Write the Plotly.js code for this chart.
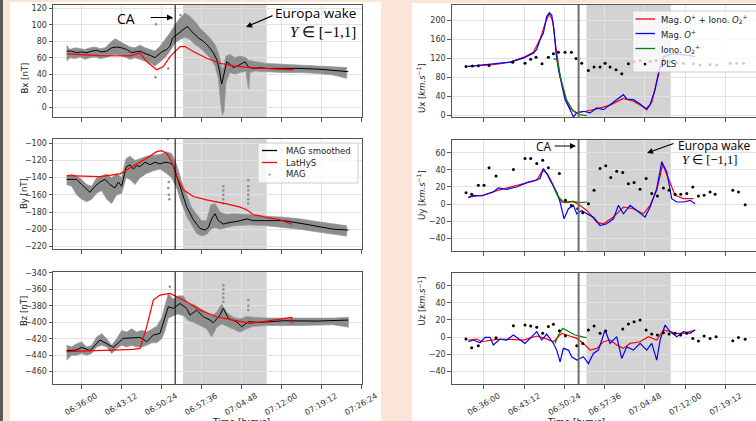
<!DOCTYPE html>
<html><head><meta charset="utf-8">
<script src="https://cdn.plot.ly/plotly-3.0.1.min.js"></script>
<style>html,body{margin:0;padding:0;overflow:hidden;background:#fbe5d6;width:756px;height:421px}#chart{width:800px;height:421px}</style>
</head><body><div id="chart"></div><script>
// ---------- times are minutes after 06:00:00 ----------
const xTickMinutes = [36, 43.2, 50.4, 57.6, 64.8, 72, 79.2, 86.4];
const xTickLabels = ['06:36:00','06:43:12','06:50:24','06:57:36','07:04:48','07:12:00','07:19:12','07:26:24'];
const caTime = 52.95;
const wakeStart = 54.35, wakeEnd = 69.42;

// ---------- Bx ----------
const bxTicks = [0,20,40,60,80,100,120];
const bxTickLabels = ['0','20','40','60','80','100','120'];
const bxSmoothTime = [33.42,34.32,35.22,36.12,37.02,37.92,38.82,39.72,40.62,41.52,42.42,43.32,44.22,45.12,45.72,46.62,47.22,48.12,48.72,49.32,49.92,50.52,51.42,52.02,52.50,53.22,54.12,54.72,55.14,55.62,56.22,57.12,58.02,58.92,59.82,60.42,60.90,61.32,61.74,62.22,62.82,63.42,64.14,64.74,65.52,66.12,67.02,68.22,69.42,72.42,75.42,79.02,81.42,84.12];
const bxSmooth = [68,68,66,67,66,68,69,67,68,72,73,72,70,66,67,68,66,64,62,60,64,67,70,74,84,88,92,96,98,94,90,84,80,74,66,58,45,28,40,55,52,48,50,52,55,49,47,48,47,47,47,46,45,43];
const bxBandTime = [33.42,34.02,34.92,35.82,36.72,37.62,38.52,39.42,40.32,41.22,42.12,43.02,43.92,44.82,45.72,46.62,47.52,48.42,49.32,50.22,51.12,52.02,52.92,53.82,54.72,55.62,56.52,57.42,58.32,59.22,60.12,60.72,61.14,61.44,61.74,62.10,62.82,63.72,64.62,65.70,66.00,66.18,66.42,67.32,69.42,72.42,75.42,78.42,81.42,83.82];
const bxBandLow  = [56,60,59,61,58,60,61,59,60,62,64,63,61,58,60,58,56,54,50,55,60,68,78,82,85,82,76,72,66,60,50,35,5,-10,-5,30,42,40,42,44,28,22,42,44,43,42,42,41,39,35];
const bxBandHigh = [75,70,72,71,70,72,73,71,72,78,83,79,76,73,72,75,72,70,68,74,82,90,100,108,114,110,104,96,90,84,76,66,55,45,50,62,64,60,62,60,58,56,57,55,53,52,51,50,49,48];
const bxOutTime = [49.5,49.4,51.7,53.9,52.3];
const bxOut = [100.6,36.4,47,112,108];
const bxModelTime = [33.42,39.42,44.82,46.62,47.82,49.62,50.82,52.02,53.82,54.72,56.22,58.62,61.02,63.42,66.42,69.42,74.22];
const bxModel = [64.6,62.6,62.2,65.5,55.4,45.3,49.3,61.4,73.5,73.5,67.5,59.4,53.3,50.1,48,47.3,45.3];

// ---------- By ----------
const byTicks = [-220,-200,-180,-160,-140,-120,-100];
const byTickLabels = ['\u2212220','\u2212200','\u2212180','\u2212160','\u2212140','\u2212120','\u2212100'];
const bySmoothTime = [33.42,35.22,36.12,37.02,37.62,38.52,39.42,40.32,41.22,42.12,42.72,43.32,44.10,44.82,45.42,46.02,46.62,47.52,48.42,49.32,50.22,51.12,52.02,52.62,53.22,54.12,55.02,56.22,57.42,58.32,58.92,59.52,60.12,60.72,61.62,62.82,64.02,65.82,67.02,69.42,72.42,75.42,79.02,81.42,84.12];
const bySmooth = [-142,-142,-148,-153,-157,-150,-145,-142,-148,-152,-145,-150,-128,-125,-130,-126,-127,-122,-125,-122,-124,-122,-123,-126,-138,-156,-174,-189,-199,-201,-198,-188,-182,-190,-194,-192,-191,-188,-190,-190,-190,-193,-197,-200,-201];
const byBandTime = [33.42,34.32,35.22,36.12,37.02,37.92,38.82,39.72,40.62,41.52,42.42,43.32,44.10,44.82,45.72,46.62,47.82,49.02,50.22,51.42,52.32,53.22,54.12,55.02,55.92,56.82,57.72,58.62,59.34,60.12,61.02,62.22,63.42,66.42,69.42,72.42,75.42,78.42,81.42,83.82];
const byBandLow  = [-148,-150,-160,-165,-168,-165,-158,-155,-165,-170,-160,-158,-140,-142,-148,-140,-135,-132,-130,-135,-140,-152,-170,-185,-195,-205,-208,-206,-200,-198,-200,-198,-196,-195,-196,-198,-200,-203,-206,-208];
const byBandHigh = [-138,-136,-138,-142,-148,-150,-140,-138,-136,-140,-135,-140,-118,-115,-120,-118,-115,-114,-113,-110,-112,-125,-145,-160,-175,-182,-190,-190,-172,-170,-180,-183,-182,-183,-185,-186,-188,-191,-194,-196];
const byOutTime = [51.6,51.7,51.8,51.7,51.8,51.9,51.6,61.6,61.6,61.6,61.6,61.6,66.1,66.1,66.1,66.1,66.1,66.1];
const byOut = [-128,-135,-145,-152,-160,-165,-95,-150,-155,-160,-165,-170,-143,-150,-155,-160,-165,-170];
const byModelTime = [33.42,39.42,43.02,45.42,47.82,49.62,50.52,51.42,52.32,53.22,54.42,56.22,58.62,62.22,64.62,65.82,67.02,68.22,69.42,71.82,73.92];
const byModel = [-137.6,-138.7,-135.6,-127,-117.4,-109.7,-108.5,-111.6,-121.3,-138.7,-154.2,-161.9,-165.8,-170.5,-174.3,-177.4,-183.2,-184.4,-186.3,-189,-194];

// ---------- Bz ----------
const bzTicks = [-460,-440,-420,-400,-380,-360,-340];
const bzTickLabels = ['\u2212460','\u2212440','\u2212420','\u2212400','\u2212380','\u2212360','\u2212340'];
const bzSmoothTime = [33.42,35.22,36.12,37.62,39.42,40.62,41.82,43.62,45.42,46.62,47.82,49.02,50.22,51.12,51.72,52.62,53.82,55.02,55.62,56.82,58.02,59.22,59.82,61.02,61.62,62.52,64.02,64.92,66.12,68.22,72.42,78.42,84.12];
const bzSmooth = [-434.5,-433.7,-430.5,-434.5,-421.6,-425.7,-430.5,-419.6,-418.4,-418.4,-423.6,-415.6,-413.5,-395.4,-381.2,-383.2,-377.2,-383.2,-391.3,-385.3,-393.3,-397.4,-400.6,-391.3,-383.2,-395.4,-399.4,-405.5,-399.4,-400.2,-398.2,-398.6,-397.4];
const bzBandTime = [33.42,34.32,35.22,36.12,37.02,37.92,38.82,39.72,40.62,41.52,42.42,43.32,44.22,45.12,46.02,46.92,47.82,48.72,49.62,50.52,51.12,51.72,52.62,53.52,54.42,55.32,56.22,57.42,58.62,59.52,60.42,61.32,62.22,63.42,64.62,65.82,67.02,69.42,75.42,81.42,84.12];
const bzBandLow  = [-446,-440,-440,-438,-440,-438,-430,-428,-430,-438,-432,-428,-430,-428,-430,-430,-428,-425,-425,-420,-410,-395,-392,-390,-392,-398,-400,-404,-408,-418,-406,-402,-405,-408,-412,-408,-405,-404,-404,-403,-406];
const bzBandHigh = [-428,-430,-426,-424,-430,-428,-418,-414,-420,-428,-420,-410,-412,-408,-412,-410,-412,-408,-405,-395,-380,-365,-372,-368,-368,-378,-378,-383,-388,-392,-388,-378,-388,-394,-396,-393,-394,-395,-395,-395,-394];
const bzOutTime = [61.62,61.62,61.62,61.62,61.62,66.12,66.12,66.12,52.0];
const bzOut = [-355,-360,-365,-370,-375,-373,-380,-385,-357];
const bzModelTime = [33.42,39.42,45.42,46.62,47.82,49.02,50.22,52.02,53.22,55.02,57.42,60.42,63.42,66.42,69.42,73.92,74.04];
const bzModel = [-435.8,-434.5,-432.9,-431.7,-405.5,-373.1,-367.1,-365.1,-369,-375.2,-385.3,-393.3,-397.4,-401.4,-398.6,-394.1,-401.4];

// ---------- Ux ----------
const uxTicks = [0,40,80,120,160,200];
const uxTickLabels = ['0','40','80','120','160','200'];
const uxMagTime = [32.96,34.74,37.72,40.70,43.08,44.87,45.47,46.06,46.66,47.25,47.73,48.15,48.56,48.92,49.41,50.53,51.42,52.02,52.62,53.81,55.00,56.19,57.38,58.57,59.76,60.95,61.55,62.74,63.93,65.01,65.72,66.61,67.21,68.10,69.89,72.27,73.76];
const uxMag = [103,105,108,112,120.6,131,139,159,173,207.7,216,211,180,131,92.7,33.4,12.5,-3,5.6,9,5.6,16,12.5,23,33.4,43.9,34.8,33.4,24.4,13.9,23,54.4,89,124,131,127.5,124];
const uxMixTime = [32.96,37.72,40.70,43.08,44.87,46.06,46.96,47.73,48.33,48.92,49.64,50.53,51.42,52.62,53.81,56.19,58.57,60.95,62.74,64.53,65.12,66.02,67.21,68.10,69.89,73.76];
const uxMix = [103,107,112,122,133,160,193,214,198,140,85,36,15,6,8,14,22,36,30,18,12,28,85,122,130,124];
const uxIonoTime = [48.5,49.1,49.7,50.8,52.0,53.2,54.4];
const uxIono = [119,118,80,33,9,2,0];
const uxPlsTime = [32.84,33.97,35.04,36.95,41.18,43.38,44.39,45.35,46.42,47.55,48.45,49.34,50.53,51.66,52.50,53.51,54.70,55.71,56.78,57.68,58.57,59.64,60.66,61.85,62.86,63.93,64.83,65.72,66.79,68.10,69.29,70.49,71.68,73.46,74.66,76.44,77.63,80.02,81.21,82.40];
const uxPls = [103,104,104.5,105,112,110,118,122.6,108.7,122.6,129.6,133,133,133,120,110,94.8,101.7,101.7,110,101.7,96,87.8,108.7,113,115.7,106,113.6,115.7,117,113,111.5,110,108.7,106,107.3,106,110,110,110];

// ---------- Uy ----------
const uvTicks = [-40,-20,0,20,40,60];
const uvTickLabels = ['\u221240','\u221220','0','20','40','60'];
const uyMagTime = [33.25,34.15,35.64,36.83,37.72,38.62,40.11,41.89,43.68,45.17,46.06,46.66,47.25,47.85,49.04,49.64,50.35,51.13,52.02,52.62,53.51,54.40,55.59,56.78,57.98,59.17,60.06,60.95,62.15,63.34,64.83,65.72,66.91,67.80,68.70,69.59,70.49,71.68,72.87,73.76];
const uyMag = [7.5,10.2,9.4,12.2,14.1,18.8,17.3,20,25.1,27.8,29.8,41.6,35.7,27.8,14.1,2.4,-17.3,-5.5,-1.6,-11.4,-7.5,-11.4,-15.3,-25.1,-23.1,-17.3,-1.6,-11.4,-1.6,-7.5,-15.3,-3.5,18,49.4,37.6,6.3,2.4,2.4,4.3,0.4];
const uyMixTime = [33.25,35.94,38.32,40.70,43.68,45.47,46.54,47.37,48.15,49.04,49.93,50.83,52.02,53.21,54.40,56.19,57.38,59.17,60.95,62.74,64.53,65.72,66.91,67.98,68.99,70.19,71.68,73.46];
const uyMix = [8.2,10.6,15.7,20,25.1,27.8,39.6,35.7,25.9,12.2,2.4,1.6,3.1,-1.6,-7.5,-21.2,-23.1,-15.3,-3.5,-5.5,-11.4,-1.6,16.1,46.3,29.8,10.2,6.3,6.3];
const uyIonoTime = [48.45,49.34,50.23,52.02,53.21,54.40];
const uyIono = [20,8.2,2.4,3.1,1.6,2.4];
const uyPlsTime = [32.84,33.85,35.04,36.05,36.95,38.20,41.30,43.38,44.39,45.47,46.54,47.55,49.52,50.59,51.66,52.79,53.69,54.70,55.71,56.78,57.80,58.69,59.76,60.84,61.85,62.86,63.93,65.01,66.02,67.03,68.10,69.11,70.19,71.20,72.27,73.35,74.36,75.37,76.44,77.34,80.49,81.51,82.70];
const uyPls = [13.3,11.4,22,22,42.4,32.9,40.4,53.3,53.3,47.5,51.4,42.4,35.7,4.3,-1.6,-5.5,-10.2,0.4,16.1,41.6,44.7,31,38.4,36.9,23.9,25.1,17.3,29.8,12.2,9.4,18.8,16.1,11.4,11.4,12.2,20,9.4,10.2,14.1,11.4,16.1,14.1,-0.8];

// ---------- Uz ----------
const uzMagTime = [33.25,34.15,35.34,36.23,37.13,37.72,38.91,40.11,41.30,42.49,43.38,44.27,45.47,46.36,47.25,48.45,49.04,49.64,50.23,51.13,51.72,52.62,53.81,54.70,55.59,56.49,57.68,58.57,59.76,60.66,61.55,62.74,63.93,65.12,66.02,66.91,67.51,68.40,69.29,70.49,71.68,72.87,73.76];
const uzMag = [-5.5,-3.5,-6.7,-0.4,-0.4,-9.4,-2.4,-3.5,2.4,-3.5,-7.5,-1.6,6.3,-3.5,3.5,-7.5,-15.3,-29,-13.3,-15.3,-23.1,-27,-23.1,-31,-19.2,-15.3,8.2,-7.5,0.4,-25.1,-11.4,-15.3,-7.5,-15.3,-7.5,-27,-3.5,14.1,6.3,0.4,6.3,4.3,8.2];
const uzMixTime = [33.25,34.74,35.64,38.32,40.70,43.08,45.47,46.96,48.45,49.93,50.83,52.62,53.81,55.00,56.19,57.38,58.57,59.76,60.95,62.15,63.93,65.42,66.91,68.10,69.29,70.49,71.68,72.87,73.76];
const uzMix = [-3.5,-2.4,-5.5,-2.8,-2.8,-3.5,1.2,-1.6,-5.5,4.3,2.4,-1.6,-7.5,-15.3,-13.3,-5.5,-3.5,-9.4,-13.3,-7.5,-5.5,0.4,-3.5,8.2,6.3,4.3,4.3,6.3,8.2];
const uzIonoTime = [48.74,49.34,50.11,51.13,52.32,53.51,54.40];
const uzIono = [-7.5,2.4,10.2,6.3,2.4,0.4,-0.8];
const uzPlsTime = [32.84,33.85,35.04,38.20,41.30,43.38,44.39,45.47,46.54,47.55,48.45,49.52,50.59,52.62,53.69,54.70,55.71,56.78,57.80,60.84,61.85,62.86,63.93,65.01,66.02,67.03,68.10,69.11,70.19,71.20,72.27,73.35,74.36,75.37,76.44,77.52,80.49,81.51,82.70];
const uzPls = [-2.4,-12.5,-10.2,-0.8,13.3,14.1,12.9,11.4,4.3,12.2,14.9,7.5,1.6,-10.2,-7.5,8.2,12.9,4.3,7.1,9.4,15.3,18,20,8.2,3.5,2.4,5.1,3.5,4.3,2.4,4.3,-1.6,-4.7,1.2,-1.6,0.4,-4.3,-0.4,-2.7];

// ---------- legend texts ----------
const leftLegend = ['MAG smoothed', 'LatHyS', 'MAG'];
const rightLegend = ['Mag. <i>O</i><sup>+</sup> + Iono. <i>O</i><sub>2</sub><sup>+</sup>', 'Mag. <i>O</i><sup>+</sup>', 'Iono. <i>O</i><sub>2</sub><sup>+</sup>', 'PLS'];

// ---------- helpers ----------
const BASE = Date.UTC(2024,0,1,6,0,0);
function toDate(m){ return new Date(BASE + Math.round(m*60000)).toISOString().replace('T',' ').replace('Z',''); }
const T = a => a.map(toDate);
const W = 800, H = 421;
const px = v => v/W, py = v => 1 - v/H;
const FONT = 'DejaVu Sans, sans-serif';
const MAGGREY = '#8d8d8d';

const traces = [];
function band(t, lo, hi, xa, ya){
  traces.push({x: T(t).concat(T(t).slice().reverse()), y: lo.concat(hi.slice().reverse()), xaxis:xa, yaxis:ya,
    type:'scatter', mode:'lines', fill:'toself', fillcolor:MAGGREY, line:{width:0.8,color:'#999999'}, name:'MAG', hoverinfo:'skip'});
}
function line(t, v, xa, ya, color, width, name){
  traces.push({x:T(t), y:v, xaxis:xa, yaxis:ya, type:'scatter', mode:'lines', line:{color, width}, name});
}
function dots(t, v, xa, ya, color, size, name){
  traces.push({x:T(t), y:v, xaxis:xa, yaxis:ya, type:'scatter', mode:'markers', marker:{color, size}, name});
}

// left magnetometer panels
[[bxBandTime,bxBandLow,bxBandHigh,bxOutTime,bxOut,bxSmoothTime,bxSmooth,bxModelTime,bxModel,'x','y'],
 [byBandTime,byBandLow,byBandHigh,byOutTime,byOut,bySmoothTime,bySmooth,byModelTime,byModel,'x2','y2'],
 [bzBandTime,bzBandLow,bzBandHigh,bzOutTime,bzOut,bzSmoothTime,bzSmooth,bzModelTime,bzModel,'x3','y3']].forEach(p=>{
  band(p[0], p[1], p[2], p[9], p[10]);
  dots(p[3], p[4], p[9], p[10], MAGGREY, 2.5, leftLegend[2]);
  line(p[5], p[6], p[9], p[10], '#000000', 1, leftLegend[0]);
  line(p[7], p[8], p[9], p[10], '#ff0000', 1.2, leftLegend[1]);
});

// right velocity panels
[[uxMixTime,uxMix,uxMagTime,uxMag,uxIonoTime,uxIono,uxPlsTime,uxPls,'x4','y4'],
 [uyMixTime,uyMix,uyMagTime,uyMag,uyIonoTime,uyIono,uyPlsTime,uyPls,'x5','y5'],
 [uzMixTime,uzMix,uzMagTime,uzMag,uzIonoTime,uzIono,uzPlsTime,uzPls,'x6','y6']].forEach(p=>{
  line(p[0], p[1], p[8], p[9], '#ff0000', 1.2, rightLegend[0]);
  line(p[2], p[3], p[8], p[9], '#0000ff', 1.2, rightLegend[1]);
  line(p[4], p[5], p[8], p[9], '#008000', 1.2, rightLegend[2]);
  dots(p[6], p[7], p[8], p[9], '#000000', 3, rightLegend[3]);
});

// ---------- layout ----------
const common = {showline:true, mirror:true, linecolor:'#555', linewidth:1, ticks:'outside', ticklen:3.5, tickcolor:'#555',
  showgrid:true, gridcolor:'#e2e2e2', gridwidth:1, zeroline:false, tickfont:{family:FONT, size:8, color:'#333'}, fixedrange:true};
function xax(d0, d1, r0, r1, anchor, labels){
  return Object.assign({}, common, {domain:[px(d0), px(d1)], type:'date', range:[toDate(r0), toDate(r1)], anchor,
    tickmode:'array', tickvals:T(xTickMinutes), ticktext:xTickLabels, showticklabels:labels, tickangle:-30, ticklabelshift:15});
}
function yax(t0, t1, r0, r1, anchor, ticks, labels){
  return Object.assign({}, common, {domain:[py(t1), py(t0)], range:[r0, r1], anchor, tickmode:'array', tickvals:ticks, ticktext:labels});
}
const L0 = 30.96, L1 = 86.58, R0 = 30.28, R1 = 86.0;
const layout = {
  width: W, height: H, margin:{l:0, r:0, t:0, b:0}, paper_bgcolor:'#fbe5d6', plot_bgcolor:'#ffffff',
  font:{family:FONT, color:'#222'}, showlegend:false,
  xaxis:  xax(53, 362, L0, L1, 'y', false),
  xaxis2: xax(53, 362, L0, L1, 'y2', false),
  xaxis3: xax(53, 362, L0, L1, 'y3', true),
  xaxis4: xax(451.7, 763.6, R0, R1, 'y4', false),
  xaxis5: xax(451.7, 763.6, R0, R1, 'y5', false),
  xaxis6: xax(451.7, 763.6, R0, R1, 'y6', true),
  yaxis:  yax(5, 117, -12, 124, 'x', bxTicks, bxTickLabels),
  yaxis2: yax(139, 249, -223, -95, 'x2', byTicks, byTickLabels),
  yaxis3: yax(272, 384, -475, -339, 'x3', bzTicks, bzTickLabels),
  yaxis4: yax(5, 117, -3, 232, 'x4', uxTicks, uxTickLabels),
  yaxis5: yax(140, 251, -55, 75, 'x5', uvTicks, uvTickLabels),
  yaxis6: yax(273, 384, -55, 75, 'x6', uvTicks, uvTickLabels),
  shapes: [], annotations: []
};
// page panels
layout.shapes.push({type:'rect', xref:'paper', yref:'paper', x0:px(10), x1:px(381), y0:0, y1:py(2), fillcolor:'#ffffff', line:{width:0}, layer:'below'});
layout.shapes.push({type:'rect', xref:'paper', yref:'paper', x0:px(412), x1:1, y0:0, y1:py(3), fillcolor:'#ffffff', line:{width:0}, layer:'below'});
layout.shapes.push({type:'rect', xref:'paper', yref:'paper', x0:0, x1:px(3), y0:0, y1:1, fillcolor:'#5a5a5a', line:{width:0}, layer:'below'});
// wake shading and CA lines
['x','x2','x3','x4','x5','x6'].forEach((xa,i)=>{
  const ya = 'y' + (i ? i+1 : '');
  layout.shapes.push({type:'rect', xref:xa, yref:ya+' domain', x0:toDate(wakeStart), x1:toDate(wakeEnd), y0:0, y1:1, fillcolor:'#d3d3d3', line:{width:0}, layer:'below'});
  const right = i >= 3;
  layout.shapes.push({type:'line', xref:xa, yref:ya+' domain', x0:toDate(caTime), x1:toDate(caTime), y0:0, y1:1,
    line:{color: right ? '#6e6e6e' : '#000000', width: right ? 2 : 1}, layer:'above'});
});
// legends (drawn as boxes, samples and texts)
function legendBox(x0, y0, x1, y1){
  layout.shapes.push({type:'rect', xref:'paper', yref:'paper', x0:px(x0), x1:px(x1), y0:py(y1), y1:py(y0),
    fillcolor:'rgba(255,255,255,0.8)', line:{color:'#cccccc', width:1}, layer:'above'});
}
function legendLine(x0, x1, y, color){
  layout.shapes.push({type:'line', xref:'paper', yref:'paper', x0:px(x0), x1:px(x1), y0:py(y), y1:py(y), line:{color, width:1.3}, layer:'above'});
}
function legendDot(x, y, r, color){
  layout.shapes.push({type:'circle', xref:'paper', yref:'paper', x0:px(x-r), x1:px(x+r), y0:py(y+r), y1:py(y-r), fillcolor:color, line:{width:0}, layer:'above'});
}
function legendText(t, x, y){
  layout.annotations.push({text:t, xref:'paper', yref:'paper', x:px(x), y:py(y), xanchor:'left', yanchor:'middle', showarrow:false, font:{family:FONT, size:8.5, color:'#222'}});
}
legendBox(258, 143, 358, 183);
legendLine(262, 277, 150.5, '#000000'); legendText(leftLegend[0], 284, 150.5);
legendLine(262, 277, 162.5, '#ff0000'); legendText(leftLegend[1], 284, 162.5);
legendDot(269.5, 174.5, 1.1, MAGGREY); legendText(leftLegend[2], 284, 174.5);
legendBox(632.7, 11, 760, 72);
legendLine(635.5, 655, 19, '#ff0000'); legendText(rightLegend[0], 659, 19);
legendLine(635.5, 655, 33.5, '#0000ff'); legendText(rightLegend[1], 659, 33.5);
legendLine(635.5, 655, 48.5, '#008000'); legendText(rightLegend[2], 659, 48.5);
legendDot(645, 64, 1.3, '#000000'); legendText(rightLegend[3], 659, 64);
// y titles
[['Bx [nT]',17,61],['By [nT]',17,194],['Bz [nT]',17,328]].forEach(a=>{
  layout.annotations.push({text:a[0], xref:'paper', yref:'paper', x:px(a[1]), y:py(a[2]), showarrow:false, textangle:-90, font:{family:FONT, size:8.5, color:'#222'}});
});
[['Ux [<i>km.s</i><sup>\u22121</sup>]',421,61],['Uy [<i>km.s</i><sup>\u22121</sup>]',421,195],['Uz [<i>km.s</i><sup>\u22121</sup>]',421,328]].forEach(a=>{
  layout.annotations.push({text:a[0], xref:'paper', yref:'paper', x:px(a[1]), y:py(a[2]), showarrow:false, textangle:-90, font:{family:FONT, size:8.5, color:'#222'}});
});
// x titles (cut at the bottom edge)
[[210],[607]].forEach(a=>{
  layout.annotations.push({text:'Time [h:m:s]', xref:'paper', yref:'paper', x:px(a[0]), y:py(415), yanchor:'top', showarrow:false, font:{family:FONT, size:9, color:'#222'}});
});
// text labels and arrows
const TF = 'Open Sans, sans-serif', MF = 'Liberation Serif, serif';
function txt(t, x, y, xanchor, font, size){ layout.annotations.push({text:t, xref:'paper', yref:'paper', x:px(x), y:py(y), xanchor, yanchor:'middle', showarrow:false, font:{family:font, size, color:'#000'}}); }
function arrow(hx, hy, tx, ty){ layout.annotations.push({text:'', xref:'paper', yref:'paper', x:px(hx), y:py(hy), ax:tx-hx, ay:ty-hy, showarrow:true, arrowhead:2, arrowsize:1, arrowwidth:1.2, arrowcolor:'#000', standoff:0}); }
txt('CA', 126, 18, 'center', TF, 14);
arrow(173, 17.5, 149, 17.5);
txt('Europa wake', 358, 13, 'right', TF, 13.5);
txt('<i>Y</i> \u2208 [<b>\u2212</b>1,1]', 358, 32, 'right', MF, 15);
arrow(246, 27, 274, 15);
txt('CA', 543.5, 146, 'center', TF, 12);
arrow(576, 146, 553, 146);
txt('Europa wake', 676, 145.5, 'left', TF, 12);
txt('<i>Y</i> \u2208 [<b>\u2212</b>1,1]', 680, 159.5, 'left', MF, 12.5);
arrow(647, 153, 675, 143);

Plotly.newPlot('chart', traces, layout, {staticPlot:true, displayModeBar:false});
</script></body></html>
